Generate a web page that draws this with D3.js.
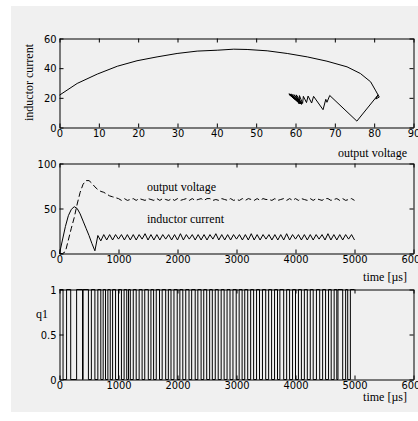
<!DOCTYPE html>
<html lang="en">
<head>
  <meta charset="UTF-8">
  <title>Converter simulation</title>
  <style>
body { margin: 0; background: #fff; }
.tick text { font-family: "DejaVu Sans Condensed", "DejaVu Sans", sans-serif; font-stretch: condensed; font-size: 11px; fill: #000; }
.lbl { font-family: "Liberation Serif", "DejaVu Serif", serif; font-size: 12px; fill: #000; }
  </style>
</head>
<body>
  <div id="chart"></div>
  <script src="https://d3js.org/d3.v7.min.js"></script>
  <script>
// phase plane: output voltage vs inductor current
const phaseV = [0,4.5,9.6,14.7,19.7,24.8,29.9,35,40.1,44.3,47.7,52.8,57.9,63,68,73.1,76.5,79.1,80.3,81.3,
  80.4,81.0,75.6,68.7,68.0,67.7,67.0,64.6,64.1,63.2,62.8,62.0,61.8,61.0,60.9,60.2,61.6,59.6,61.4,59.0,
  61.5,58.6,61.2,58.3,61.4,58.5,61.0,58.8,61.6,58.4,61.3,58.7,61.5,58.5];
const phaseI = [21.8,29.7,36,41.3,45,47.6,49.9,51.5,52.1,52.8,52.6,51.7,49.9,47.6,44.7,40.9,36.4,30.8,25.2,20.5,
  19.2,22.0,4.3,21.6,17.0,19.0,12.0,21.0,16.5,21.2,16.8,21.0,16.2,21.5,16.0,22.0,16.5,22.2,15.8,22.5,
  16.0,22.3,16.4,22.5,15.9,22.0,16.2,22.4,16.0,22.6,16.3,22.1,15.8,22.3];

// time series, sampled every 50 us from 0 to 5000 us
const sampleStep = 50;
const inductorCurrent = [0,15,30,42,49,52,50,44,36,28,20,11,3,20,14,21,
  15,21,15,21,16,21,15,21,15,21,
  15,21,16,22,15,21,15,21,15,21,
  16,21,15,21,15,22,15,21,16,21,
  15,21,15,21,15,21,16,22,15,21,
  15,21,15,21,16,21,15,21,15,22,
  15,21,15,21,16,21,15,21,15,21,
  15,22,15,21,16,21,15,21,15,21,
  15,21,16,21,15,22,15,21,15,21,
  15,21,16,21,15];
const outputVoltage = [0,0,2,15,28,40,55,68,77,81,81,78,74,71,69,68,66,64,63,62,61,
  59,61,59,60,61,59,61,60,59,61,
  60,59,61,59,61,60,59,61,59,61,
  59,60,61,59,61,59,60,61,59,61,
  61,59,60,59,61,60,59,61,59,60,
  59,61,59,61,60,59,61,59,61,60,
  60,59,61,59,60,61,59,61,59,61,
  59,61,60,59,61,59,61,60,59,61,
  61,59,60,61,59,61,59,60,61,59];

// switching instants of q1 (us), state toggles at each one, starting high
const q1Edges = [0,60,120,190,290,390,400,490,540,600,650,700,740,780,820,860,900,950,1000,1050,
  1095,1140,1170,1200,1250,1300,1350,1400,1445,1505,1550,1595,1640,1695,1740,1800,1845,1890,1940,1995,
  2040,2090,2140,2195,2240,2300,2345,2400,2445,2495,2545,2590,2640,2690,2740,2790,2840,2890,2940,2995,
  3045,3095,3140,3190,3240,3290,3340,3390,3440,3495,3545,3595,3645,3695,3735,3800,3850,3900,3950,4000,
  4050,4100,4150,4200,4250,4300,4355,4410,4460,4510,4560,4605,4655,4700,4720,4800,4850,4885,4930];

const phaseXTicks = [0,10,20,30,40,50,60,70,80,90];
const phaseYTicks = [0,20,40,60];
const timeTicks = [0,1000,2000,3000,4000,5000,6000];
const seriesYTicks = [0,50,100];
const q1Ticks = [0,0.5,1];

const W = 418, H = 421;
const left = 59.5, right = 413.5;

const svg = d3.select("#chart").append("svg")
  .attr("width", W)
  .attr("height", H);

svg.append("rect")
  .attr("x", 11).attr("y", 6)
  .attr("width", W - 11).attr("height", 406)
  .attr("fill", "#f0f0f0");

function box(x, y, xt, yt, fmtY) {
  const g = svg.append("g");
  const [y0, y1] = y.range();
  g.append("g").attr("transform", `translate(0,${y0})`)
    .call(d3.axisBottom(x).tickValues(xt).tickSize(-4).tickSizeOuter(0).tickPadding(2).tickFormat(d3.format("d")));
  g.append("g").attr("transform", `translate(0,${y1})`)
    .call(d3.axisTop(x).tickValues(xt).tickSize(-4).tickSizeOuter(0).tickFormat(""));
  g.append("g").attr("transform", `translate(${left},0)`)
    .call(d3.axisLeft(y).tickValues(yt).tickSize(-4).tickSizeOuter(0).tickPadding(3).tickFormat(fmtY || d3.format("d")));
  g.append("g").attr("transform", `translate(${right},0)`)
    .call(d3.axisRight(y).tickValues(yt).tickSize(-4).tickSizeOuter(0).tickFormat(""));
  g.selectAll(".domain").attr("stroke", "#000");
  g.selectAll(".tick line").attr("stroke", "#000");
  return g;
}

// ---- top: phase plane
const x1 = d3.scaleLinear().domain([0, 90]).range([left, right]);
const y1 = d3.scaleLinear().domain([0, 60]).range([127.5, 38.5]);
box(x1, y1, phaseXTicks, phaseYTicks);

svg.append("path")
  .datum(d3.zip(phaseV, phaseI))
  .attr("fill", "none")
  .attr("stroke", "#000")
  .attr("stroke-width", 1)
  .attr("d", d3.line().x(d => x1(d[0])).y(d => y1(d[1])));

svg.append("text").attr("class", "lbl")
  .attr("transform", `translate(33,${(38 + 127) / 2}) rotate(-90)`)
  .attr("text-anchor", "middle")
  .text("inductor current");

svg.append("text").attr("class", "lbl")
  .attr("x", 407).attr("y", 157)
  .attr("text-anchor", "end")
  .text("output voltage");

// ---- middle: time series
const x2 = d3.scaleLinear().domain([0, 6000]).range([left, right]);
const y2 = d3.scaleLinear().domain([0, 100]).range([253.5, 163.5]);
box(x2, y2, timeTicks, seriesYTicks);

const line2 = d3.line().x((d, i) => x2(i * sampleStep)).y(d => y2(d));

svg.append("path")
  .datum(outputVoltage)
  .attr("fill", "none")
  .attr("stroke", "#000")
  .attr("stroke-dasharray", "6,3")
  .attr("d", line2);

svg.append("path")
  .datum(inductorCurrent)
  .attr("fill", "none")
  .attr("stroke", "#000")
  .attr("d", line2);

svg.append("text").attr("class", "lbl")
  .attr("x", 147).attr("y", 191)
  .text("output voltage");

svg.append("text").attr("class", "lbl")
  .attr("x", 147).attr("y", 223)
  .text("inductor current");

svg.append("text").attr("class", "lbl")
  .attr("x", 407).attr("y", 281)
  .attr("text-anchor", "end")
  .text("time [µs]");

// ---- bottom: switch signal
const x3 = d3.scaleLinear().domain([0, 6000]).range([left, right]);
const y3 = d3.scaleLinear().domain([0, 1]).range([379.5, 289.5]);
box(x3, y3, timeTicks, q1Ticks, d3.format("~g"));

const q1Pts = q1Edges.map((t, i) => [t, i % 2 === 0 ? 1 : 0]);
q1Pts.push([5000, q1Pts[q1Pts.length - 1][1]]);

svg.append("path")
  .datum(q1Pts)
  .attr("fill", "none")
  .attr("stroke", "#000")
  .attr("d", d3.line().curve(d3.curveStepAfter).x(d => x3(d[0])).y(d => y3(d[1])));

svg.append("text").attr("class", "lbl")
  .attr("x", 36).attr("y", 318)
  .text("q1");

svg.append("text").attr("class", "lbl")
  .attr("x", 407).attr("y", 401)
  .attr("text-anchor", "end")
  .text("time [µs]");
  </script>
</body>
</html>
